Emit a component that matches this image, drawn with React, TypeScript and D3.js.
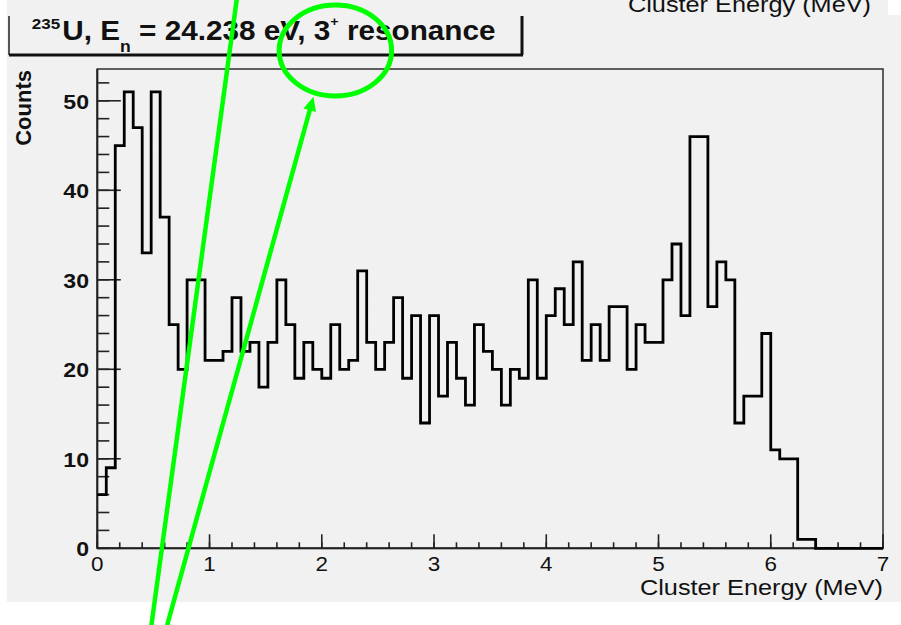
import { useMemo } from "react";
import * as d3 from "d3";

// histogram: 0.08 MeV bins starting at 0
const binWidth = 0.08;
const counts = [
  6, 9, 45, 51, 47, 33, 51, 37, 25, 20,
  30, 30, 21, 21, 22, 28, 22, 23, 18, 23,
  30, 25, 19, 23, 20, 19, 25, 20, 21, 31,
  23, 20, 23, 28, 19, 26, 14, 26, 17, 23,
  19, 16, 25, 22, 20, 16, 20, 19, 30, 19,
  26, 29, 25, 32, 21, 25, 21, 27, 27, 20,
  25, 23, 23, 30, 34, 26, 46, 46, 27, 32,
  30, 14, 17, 17, 24, 11, 10, 10, 1, 1,
  0, 0, 0, 0, 0, 0, 0, 0,
];
const xTickValues = [0, 1, 2, 3, 4, 5, 6, 7];
const yTickValues = [0, 10, 20, 30, 40, 50];
const xRange = [0, 7];

const titleParts = {
  isotope: "235",
  main1: "U, E",
  sub: "n",
  main2: " = 24.238 eV, 3",
  sup: "+",
  main3: " resonance",
};
const xTitle = "Cluster Energy (MeV)";
const yTitle = "Counts";

// hand-drawn green annotation, given in data units (MeV, counts)
const annotationLines = [
  { from: [1.242, 61.3], to: [0.482, -8.6], arrow: false },
  { from: [0.622, -8.6], to: [1.926, 50.45], arrow: true },
];
const annotationEllipse = { center: [2.121, 55.62], rx: 0.501, ry: 5.08 };

const W = 901;
const H = 625;
const margin = { top: 69, right: 18, bottom: 76.7, left: 97.3 };
const FONT = "'Liberation Sans', Arial, sans-serif";
const BG = "#f1f1f1";
const GREEN = "#00ff00";

function Stretch({ x, y, sx = 1.15, children }: { x: number; y: number; sx?: number; children: any }) {
  return <g transform={`translate(${x},${y}) scale(${sx},1)`}>{children}</g>;
}

export default function App() {
  const x = useMemo(
    () => d3.scaleLinear().domain(xRange).range([margin.left, W - margin.right]),
    [],
  );
  const yMax = (d3.max(counts) ?? 0) * 1.05;
  const y = useMemo(
    () => d3.scaleLinear().domain([0, yMax]).range([H - margin.bottom, margin.top]),
    [yMax],
  );

  const histPath = useMemo(() => {
    const pts: [number, number][] = [];
    counts.forEach((c, i) => {
      const e = i * binWidth;
      if (e < xRange[1]) pts.push([e, c]);
    });
    pts.push([xRange[1], pts[pts.length - 1][1]]);
    return d3
      .line<[number, number]>()
      .x((d) => x(d[0]))
      .y((d) => y(d[1]))
      .curve(d3.curveStepAfter)(pts);
  }, [x, y]);

  const xMinor = d3.range(0, 36).map((i) => i * 0.2);
  const yMinor = d3.range(0, 27).map((i) => i * 2);

  const x0 = x(0);
  const y0 = y(0);

  return (
    <svg
      width={W}
      height={H}
      viewBox={`0 0 ${W} ${H}`}
      style={{ position: "absolute", left: 0, top: 0, background: "#ffffff" }}
      fontFamily={FONT}
    >
      <rect x={7} y={0} width={W - 7} height={602} fill={BG} />
      <rect x={888} y={0} width={W - 888} height={15} fill="#ffffff" />

      {/* cut-off title of the panel above */}
      <Stretch x={871} y={12}>
        <text textAnchor="end" fontSize={22} fill="#111">
          {xTitle}
        </text>
      </Stretch>

      {/* title box */}
      <line x1={9} y1={16} x2={9} y2={55} stroke="#222" strokeWidth={1.5} />
      <line x1={9} y1={55} x2={523} y2={55} stroke="#111" strokeWidth={3} />
      <line x1={522} y1={16} x2={522} y2={55} stroke="#111" strokeWidth={3} />
      <Stretch x={31.7} y={40} sx={1.1}>
        <text fontWeight="bold" fontSize={27} fill="#111">
          <tspan fontSize={15.5} dy={-11.5}>{titleParts.isotope}</tspan>
          <tspan fontSize={27} dy={11.5} dx={2}>{titleParts.main1}</tspan>
          <tspan fontSize={16} dy={11.5}>{titleParts.sub}</tspan>
          <tspan fontSize={27} dy={-11.5}>{titleParts.main2}</tspan>
          <tspan fontSize={13} dy={-14}>{titleParts.sup}</tspan>
          <tspan fontSize={27} dy={14}>{titleParts.main3}</tspan>
        </text>
      </Stretch>

      {/* frame */}
      <rect
        x={x0}
        y={y(yMax)}
        width={x(xRange[1]) - x0}
        height={y0 - y(yMax)}
        fill={BG}
        stroke="#3a3a3a"
        strokeWidth={1.6}
      />

      {/* y ticks */}
      {yMinor.map((v) => (
        <line key={`ym${v}`} x1={x0} x2={x0 + 12} y1={y(v)} y2={y(v)} stroke="#222" strokeWidth={1.6} />
      ))}
      {yTickValues.map((v) => (
        <line key={`yM${v}`} x1={x0} x2={x0 + 23.5} y1={y(v)} y2={y(v)} stroke="#222" strokeWidth={1.6} />
      ))}
      {yTickValues.map((v) => (
        <Stretch key={`yl${v}`} x={89} y={y(v) + 8} sx={1.1}>
          <text textAnchor="end" fontWeight="bold" fontSize={21} fill="#111">
            {v}
          </text>
        </Stretch>
      ))}

      {/* x ticks */}
      {xMinor.map((v) => (
        <line key={`xm${v}`} x1={x(v)} x2={x(v)} y1={y0} y2={y0 - 6} stroke="#222" strokeWidth={1.6} />
      ))}
      {xTickValues.map((v) => (
        <line key={`xM${v}`} x1={x(v)} x2={x(v)} y1={y0} y2={y0 - 14} stroke="#222" strokeWidth={1.6} />
      ))}
      {xTickValues.map((v) => (
        <Stretch key={`xl${v}`} x={x(v)} y={571}>
          <text textAnchor="middle" fontSize={19.5} fill="#111">
            {v}
          </text>
        </Stretch>
      ))}

      {/* axes */}
      <line x1={x0} x2={x0} y1={y(yMax)} y2={y0} stroke="#222" strokeWidth={2} />
      <line x1={x0} x2={x(xRange[1])} y1={y0} y2={y0} stroke="#222" strokeWidth={2} />

      {/* axis titles */}
      <Stretch x={x(xRange[1])} y={595}>
        <text textAnchor="end" fontSize={22} fill="#111">
          {xTitle}
        </text>
      </Stretch>
      <text
        transform={`translate(31,70) rotate(-90)`}
        textAnchor="end"
        fontWeight="bold"
        fontSize={22}
        fill="#111"
      >
        {yTitle}
      </text>

      {/* histogram */}
      <path d={histPath ?? ""} fill="none" stroke="#000" strokeWidth={2.8} strokeLinejoin="miter" />

      {/* annotation */}
      <g>
        <ellipse
          cx={x(annotationEllipse.center[0])}
          cy={y(annotationEllipse.center[1])}
          rx={x(annotationEllipse.rx) - x(0)}
          ry={y(0) - y(annotationEllipse.ry)}
          fill="none"
          stroke={GREEN}
          strokeWidth={5}
        />
        {annotationLines.map((l, i) => {
          const x1 = x(l.from[0]);
          const y1 = y(l.from[1]);
          const x2 = x(l.to[0]);
          const y2 = y(l.to[1]);
          const len = Math.hypot(x2 - x1, y2 - y1);
          const ux = (x2 - x1) / len;
          const uy = (y2 - y1) / len;
          const head = 14;
          const half = 6.5;
          const bx = x2 - ux * head;
          const by = y2 - uy * head;
          return (
            <g key={i}>
              <line
                x1={x1}
                y1={y1}
                x2={l.arrow ? bx + ux * 2 : x2}
                y2={l.arrow ? by + uy * 2 : y2}
                stroke={GREEN}
                strokeWidth={4.5}
              />
              {l.arrow && (
                <polygon
                  points={`${x2},${y2} ${bx - uy * half},${by + ux * half} ${bx + uy * half},${by - ux * half}`}
                  fill={GREEN}
                />
              )}
            </g>
          );
        })}
      </g>
    </svg>
  );
}
